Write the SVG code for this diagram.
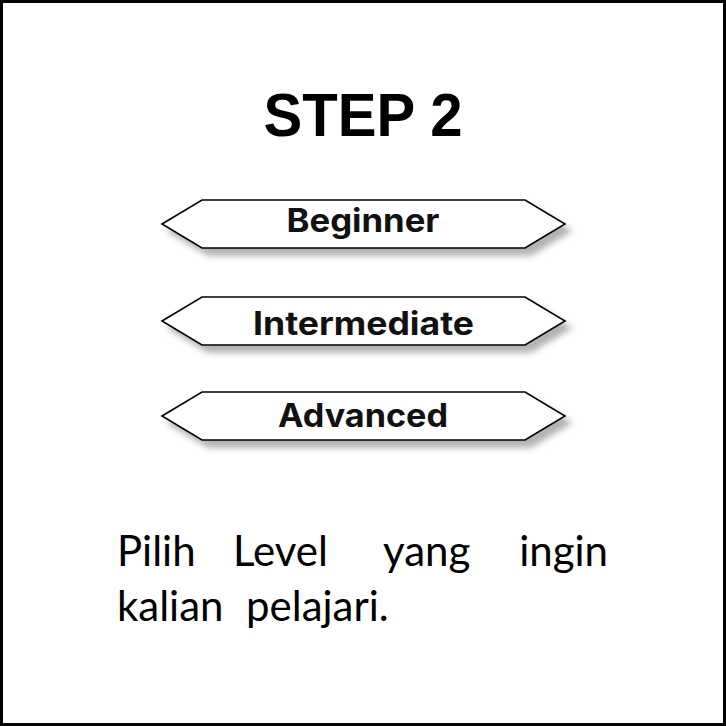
<svg xmlns="http://www.w3.org/2000/svg" width="726" height="726" viewBox="0 0 726 726">
<defs>
<style>
.hex{fill:#fff;stroke:#000;stroke-width:1.6;filter:url(#sh)}
.lbl{font-family:Inter,"Liberation Sans",sans-serif;font-weight:700;font-size:32px;fill:#111;text-anchor:middle}
.hand{font-family:Lato,"Noto Sans",sans-serif;font-size:42px;fill:#000}
</style>
<filter id="sh" x="-10%" y="-30%" width="125%" height="180%">
<feDropShadow dx="6" dy="7" stdDeviation="3" flood-color="#000" flood-opacity="0.3"/>
</filter>
</defs>
<rect x="1.5" y="1.5" width="723" height="723" fill="#fff" stroke="#000" stroke-width="3"/>
<text x="363" y="136" font-family="'Liberation Sans',Arial,sans-serif" font-weight="700" font-size="62" text-anchor="middle" textLength="199" lengthAdjust="spacingAndGlyphs">STEP 2</text>
<g id="beginner">
<polygon class="hex" points="162,224 202,200 525,200 565,224 525,248 202,248"/>
<text class="lbl" x="363" y="232" textLength="153" lengthAdjust="spacingAndGlyphs">Beginner</text>
</g>
<g id="intermediate">
<polygon class="hex" points="162,321 202,297 525,297 565,321 525,345 202,345"/>
<text class="lbl" x="363.5" y="335" textLength="221" lengthAdjust="spacingAndGlyphs">Intermediate</text>
</g>
<g id="advanced">
<polygon class="hex" points="162,416 202,392 525,392 565,416 525,440 202,440"/>
<text class="lbl" x="363" y="427" textLength="170" lengthAdjust="spacingAndGlyphs">Advanced</text>
</g>
<g id="caption" class="hand">
<text x="117" y="566">Pilih</text>
<text x="233" y="566">Level</text>
<text x="383" y="566">yang</text>
<text x="608" y="566" text-anchor="end">ingin</text>
<text x="117" y="621">kalian</text>
<text x="246" y="621">pelajari.</text>
</g>
</svg>
